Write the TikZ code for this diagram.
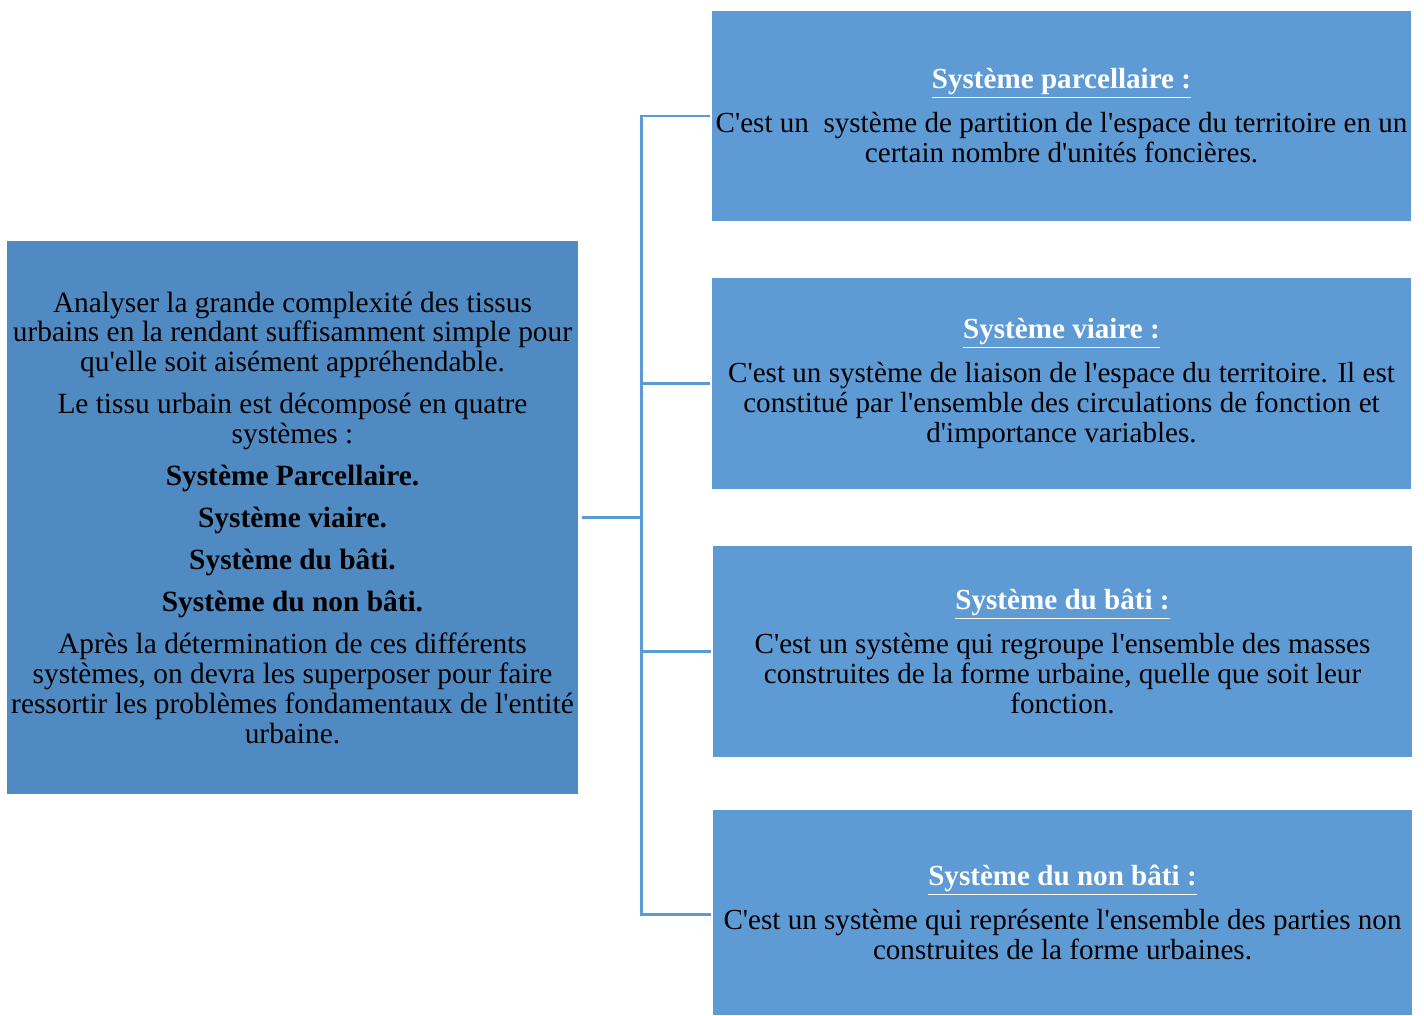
\documentclass[tikz,border=0pt]{standalone}
\usepackage{fontspec}
\setmainfont{Liberation Serif}[Ligatures=TeXOff]
\usetikzlibrary{positioning}
\definecolor{mainblue}{HTML}{4F8AC3}
\definecolor{boxblue}{HTML}{5E9BD5}
\definecolor{linkblue}{HTML}{5B9BD5}
\newcommand{\boxtitle}[1]{\textcolor{white}{\textbf{\underline{#1}}}}

\begin{document}
\begin{tikzpicture}[x=1cm,y=1cm]
\tikzset{
  mainbox/.style={rectangle,fill=mainblue,minimum width=14.275cm,minimum height=13.825cm,inner sep=0pt,align=center,font=\fontsize{20.9}{21.3}\selectfont},
  sysbox/.style={rectangle,fill=boxblue,minimum width=17.475cm,minimum height=5.275cm,inner sep=0pt,align=center,font=\fontsize{20.7}{21.3}\selectfont},
  link/.style={draw=linkblue,line width=2.1pt}
}
\useasboundingbox (0,0) rectangle (35.6,-25.375);
\node[mainbox] (analyse) at (7.3125,-12.9375) {Analyser la grande complexité des tissus\\
urbains en la rendant suffisamment simple pour\\
qu'elle soit aisément appréhendable.\\[8.5pt]
Le tissu urbain est décomposé en quatre\\
systèmes :\\[8.5pt]
\textbf{Système Parcellaire.}\\[8.5pt]
\textbf{Système viaire.}\\[8.5pt]
\textbf{Système du bâti.}\\[8.5pt]
\textbf{Système du non bâti.}\\[8.5pt]
Après la détermination de ces différents\\
systèmes, on devra les superposer pour faire\\
ressortir les problèmes fondamentaux de l'entité\\
urbaine.};
\node[sysbox,minimum height=5.25cm] (parcel) at (26.5375,-2.9) {\boxtitle{Système parcellaire :}\\[10pt]
C'est un\ \ système de partition de l'espace du territoire en un\\
certain nombre d'unités foncières.};
\node[sysbox] (viaire) at (26.5375,-9.5875) {\boxtitle{Système viaire :}\\[10pt]
C'est un système de liaison de l'espace du territoire. Il est\\
constitué par l'ensemble des circulations de fonction et\\
d'importance variables.};
\node[sysbox] (bati) at (26.5625,-16.2875) {\boxtitle{Système du bâti :}\\[10pt]
C'est un système qui regroupe l'ensemble des masses\\
construites de la forme urbaine, quelle que soit leur\\
fonction.};
\node[sysbox,minimum height=5.125cm] (nonbati) at (26.5625,-22.8125) {\boxtitle{Système du non bâti :}\\[10pt]
C'est un système qui représente l'ensemble des parties non\\
construites de la forme urbaines.};
\coordinate (hub) at ([xshift=1.575cm]analyse.east);
\draw[link,shorten <=0.1cm] (analyse) -- (hub);
\draw[link,shorten >=0.05cm] (hub) |- (parcel.west);
\draw[link,shorten >=0.05cm] (hub) |- (viaire.west);
\draw[link,shorten >=0.05cm] (hub) |- (bati.west);
\draw[link,shorten >=0.05cm] (hub) |- ([yshift=-0.06cm]nonbati.west);
\end{tikzpicture}
\end{document}
